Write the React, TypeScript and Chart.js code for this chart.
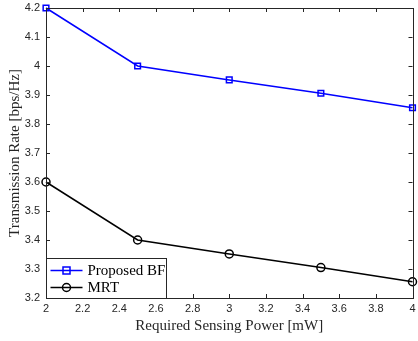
import React, { useEffect, useRef } from "react";
import { Chart, registerables } from "chart.js";

Chart.register(...registerables);

const powers = [2, 2.5, 3, 3.5, 4];
const proposedBF = [4.2, 4.0, 3.952, 3.906, 3.856];
const mrt = [3.6, 3.4, 3.352, 3.305, 3.256];
const seriesNames = ["Proposed BF", "MRT"];
const xLabel = "Required Sensing Power [mW]";
const yLabel = "Transmission Rate [bps/Hz]";

const serif = "'Liberation Serif', 'DejaVu Serif', serif";
const sans = "'Liberation Sans', Arial, sans-serif";

function fmt(v: number) {
  return String(Number(v.toFixed(2)));
}

const frame = {
  id: "frame",
  afterDraw(chart: any) {
    const { ctx, chartArea: a, scales } = chart;
    const x = scales.x;
    const y = scales.y;
    ctx.save();
    ctx.strokeStyle = "#262626";
    ctx.lineWidth = 1;
    const L = 4;
    ctx.beginPath();
    x.ticks.forEach((t: any) => {
      const px = Math.round(x.getPixelForValue(t.value)) + 0.5;
      ctx.moveTo(px, a.bottom);
      ctx.lineTo(px, a.bottom - L);
      ctx.moveTo(px, a.top);
      ctx.lineTo(px, a.top + L);
    });
    y.ticks.forEach((t: any) => {
      const py = Math.round(y.getPixelForValue(t.value)) + 0.5;
      ctx.moveTo(a.left, py);
      ctx.lineTo(a.left + L, py);
      ctx.moveTo(a.right, py);
      ctx.lineTo(a.right - L, py);
    });
    ctx.stroke();
    ctx.strokeRect(Math.round(a.left) + 0.5, Math.round(a.top) + 0.5, Math.round(a.right - a.left), Math.round(a.bottom - a.top));

    // legend box in lower-left
    const bx = Math.round(a.left) + 0.5;
    const bw = 120;
    const bh = 40;
    const by = Math.round(a.bottom) + 0.5 - bh;
    ctx.fillStyle = "#ffffff";
    ctx.fillRect(bx, by, bw, bh);
    ctx.strokeStyle = "#262626";
    ctx.strokeRect(bx, by, bw, bh);
    ctx.font = `15px ${serif}`;
    ctx.textBaseline = "middle";
    chart.data.datasets.forEach((ds: any, i: number) => {
      const cy = by + 12 + i * 17;
      ctx.strokeStyle = ds.borderColor;
      ctx.lineWidth = 1.5;
      ctx.beginPath();
      ctx.moveTo(bx + 4, cy);
      ctx.lineTo(bx + 36, cy);
      ctx.stroke();
      const mx = bx + 20;
      ctx.beginPath();
      if (ds.pointStyle === "rect") {
        ctx.rect(mx - 3.5, cy - 3.5, 7, 7);
      } else {
        ctx.arc(mx, cy, 4, 0, Math.PI * 2);
      }
      ctx.stroke();
      ctx.fillStyle = "#000";
      ctx.fillText(ds.label, bx + 41, cy + 1);
    });
    ctx.restore();
  },
};

export default function App() {
  const ref = useRef<HTMLCanvasElement>(null);
  useEffect(() => {
    document.body.style.margin = "0";
    const chart = new Chart(ref.current!, {
      type: "line",
      data: {
        labels: powers,
        datasets: [
          {
            label: seriesNames[0],
            data: powers.map((p, i) => ({ x: p, y: proposedBF[i] })),
            borderColor: "#0000ff",
            backgroundColor: "transparent",
            borderWidth: 1.5,
            pointStyle: "rect",
            pointRadius: 4,
            pointBorderWidth: 1.5,
            pointBackgroundColor: "transparent",
            tension: 0,
            clip: false,
          },
          {
            label: seriesNames[1],
            data: powers.map((p, i) => ({ x: p, y: mrt[i] })),
            borderColor: "#000000",
            backgroundColor: "transparent",
            borderWidth: 1.5,
            pointStyle: "circle",
            pointRadius: 4,
            pointBorderWidth: 1.5,
            pointBackgroundColor: "transparent",
            tension: 0,
            clip: false,
          },
        ],
      },
      options: {
        animation: false,
        responsive: false,
        devicePixelRatio: 1,
        layout: { padding: { top: 8, right: 5, left: 0, bottom: 0 } },
        plugins: { legend: { display: false }, tooltip: { enabled: false } },
        scales: {
          x: {
            type: "linear",
            min: 2,
            max: 4,
            grid: { display: false, drawTicks: false },
            border: { display: false },
            ticks: {
              stepSize: 0.2,
              color: "#262626",
              font: { family: sans, size: 11 },
              padding: 4,
              maxRotation: 0,
              callback: (v: any) => fmt(Number(v)),
            },
            title: {
              display: true,
              text: xLabel,
              color: "#262626",
              font: { family: serif, size: 15 },
              padding: { top: 2, bottom: 6 },
            },
            afterFit: (s: any) => {
              s.height = 43;
              s.paddingLeft = 0;
              s.paddingRight = 0;
            },
          },
          y: {
            type: "linear",
            min: 3.2,
            max: 4.2,
            grid: { display: false, drawTicks: false },
            border: { display: false },
            ticks: {
              stepSize: 0.1,
              color: "#262626",
              font: { family: sans, size: 11 },
              padding: 6,
              callback: (v: any) => fmt(Number(v)),
            },
            title: {
              display: true,
              text: yLabel,
              color: "#262626",
              font: { family: serif, size: 15 },
              padding: { top: 6, bottom: 0 },
            },
            afterFit: (s: any) => {
              s.width = 46;
              s.paddingTop = 0;
              s.paddingBottom = 0;
            },
          },
        },
      },
      plugins: [frame],
    });
    return () => chart.destroy();
  }, []);
  return <canvas ref={ref} width={418} height={341} style={{ display: "block" }} />;
}
